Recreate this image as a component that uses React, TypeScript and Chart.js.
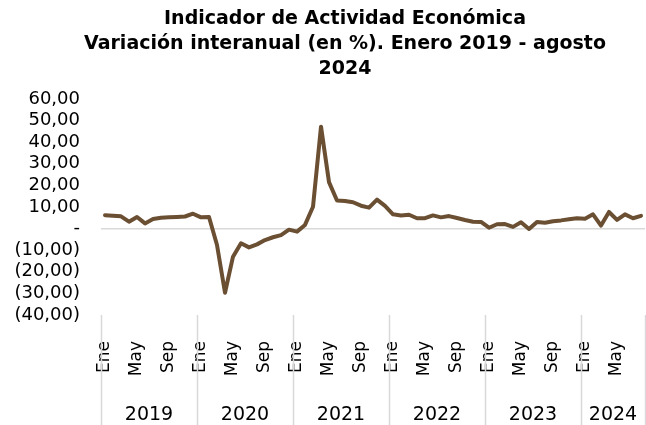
import React, { useEffect, useRef } from 'react';
import { Chart, registerables } from 'chart.js';

Chart.register(...registerables);

// ---- Data ----
const years = ['2019', '2020', '2021', '2022', '2023', '2024'];
const monthsPerYear = [12, 12, 12, 12, 12, 8];
const monthNames = ['Ene', 'Feb', 'Mar', 'Abr', 'May', 'Jun', 'Jul', 'Ago', 'Sep', 'Oct', 'Nov', 'Dic'];
const shownMonths = ['Ene', 'May', 'Sep'];
const variacion = [
  // 2019
  6.2, 6.0, 5.7, 3.2, 5.4, 2.4, 4.4, 5.0, 5.2, 5.4, 5.6, 6.9,
  // 2020
  5.2, 5.4, -7.6, -29.7, -13.0, -6.8, -8.7, -7.3, -5.3, -4.0, -3.0, -0.5,
  // 2021
  -1.4, 1.7, 10.1, 47.2, 21.5, 13.0, 12.8, 12.2, 10.6, 9.7, 13.4, 10.5,
  // 2022
  6.6, 6.1, 6.4, 4.8, 4.8, 6.1, 5.2, 5.8, 4.9, 4.0, 3.2, 3.1,
  // 2023
  0.4, 2.0, 2.1, 0.8, 2.9, -0.2, 3.1, 2.7, 3.4, 3.8, 4.3, 4.8,
  // 2024
  4.6, 6.6, 1.4, 7.7, 4.0, 6.6, 4.8, 5.9,
];
const titleLines = [
  'Indicador de Actividad Económica',
  'Variación interanual (en %). Enero 2019 - agosto',
  '2024',
];
const yMin = -40;
const yMax = 60;
const yStep = 10;

// ---- Derived ----
const categories: string[] = years.flatMap((_, i) => monthNames.slice(0, monthsPerYear[i]));
const yearStarts: number[] = monthsPerYear.map((_, i) =>
  monthsPerYear.slice(0, i).reduce((a, b) => a + b, 0)
);
const yearCenters: number[] = yearStarts.map((s, i) => s + (monthsPerYear[i] - 1) / 2);
const yearBoundaries: number[] = [...yearStarts.map((s) => s - 0.5), categories.length - 0.5];

const FONT = "'DejaVu Sans', sans-serif";
const LINE_COLOR = '#6B4F33';
const GRID_COLOR = '#D9D9D9';

function formatY(v: number): string {
  if (v === 0) return '-';
  const s = Math.abs(v).toFixed(2).replace('.', ',');
  return v < 0 ? `(${s})` : s;
}

const titlePlugin = {
  id: 'customTitle',
  afterDraw(chart: any) {
    const ctx = chart.ctx;
    ctx.save();
    ctx.fillStyle = '#000';
    ctx.font = `bold 19px ${FONT}`;
    ctx.textAlign = 'center';
    ctx.textBaseline = 'middle';
    const cx = 345;
    titleLines.forEach((line, i) => {
      ctx.fillText(line, cx, 19 + i * 25);
    });
    ctx.restore();
  },
};

const separatorPlugin = {
  id: 'yearSeparators',
  afterDraw(chart: any) {
    const ctx = chart.ctx;
    const s = chart.scales.x2;
    const top = chart.chartArea.bottom;
    const bottom = chart.height;
    ctx.save();
    ctx.strokeStyle = GRID_COLOR;
    ctx.lineWidth = 1.5;
    yearBoundaries.forEach((b) => {
      const x = Math.round(s.getPixelForValue(b)) + 0.5;
      ctx.beginPath();
      ctx.moveTo(x, top);
      ctx.lineTo(x, bottom);
      ctx.stroke();
    });
    ctx.restore();
  },
};

export default function App() {
  const canvasRef = useRef<HTMLCanvasElement | null>(null);

  useEffect(() => {
    if (!canvasRef.current) return;
    const chart = new Chart(canvasRef.current, {
      type: 'line',
      data: {
        labels: categories,
        datasets: [
          {
            data: variacion,
            borderColor: LINE_COLOR,
            backgroundColor: LINE_COLOR,
            borderWidth: 4,
            pointRadius: 0,
            tension: 0,
            borderJoinStyle: 'round',
            borderCapStyle: 'round',
            fill: false,
          },
        ],
      },
      options: {
        animation: false,
        responsive: true,
        maintainAspectRatio: false,
        layout: { padding: { top: 99, right: 1, left: 0, bottom: 0 } },
        plugins: {
          legend: { display: false },
          title: { display: false },
          tooltip: { enabled: false },
        },
        scales: {
          x: {
            type: 'category',
            offset: true,
            weight: 0,
            grid: { display: false },
            border: { display: false },
            ticks: {
              autoSkip: false,
              maxRotation: 90,
              minRotation: 90,
              padding: 18,
              color: '#000',
              font: { family: FONT, size: 17 },
              callback: (_v: any, i: number) =>
                shownMonths.includes(categories[i]) ? categories[i] : '',
            },
            afterFit: (s: any) => {
              s.height = 60;
              s.paddingLeft = 0;
              s.paddingRight = 0;
            },
          },
          x2: {
            type: 'linear',
            position: 'bottom',
            weight: 1,
            min: -0.5,
            max: categories.length - 0.5,
            grid: { display: false },
            border: { display: false },
            afterBuildTicks: (axis: any) => {
              axis.ticks = yearCenters.map((v) => ({ value: v }));
            },
            ticks: {
              autoSkip: false,
              maxRotation: 0,
              minRotation: 0,
              padding: 21,
              color: '#000',
              font: { family: FONT, size: 19 },
              callback: (v: any) => {
                const idx = yearCenters.indexOf(Number(v));
                return idx >= 0 ? years[idx] : '';
              },
            },
            afterFit: (s: any) => {
              s.height = 50;
              s.paddingLeft = 0;
              s.paddingRight = 0;
            },
          },
          y: {
            min: yMin,
            max: yMax,
            border: { display: false },
            grid: {
              drawTicks: false,
              lineWidth: 1.5,
              color: (ctx: any) => (ctx.tick && ctx.tick.value === 0 ? GRID_COLOR : 'rgba(0,0,0,0)'),
            },
            ticks: {
              stepSize: yStep,
              autoSkip: false,
              padding: 21,
              color: '#000',
              font: { family: FONT, size: 18 },
              callback: (v: any) => formatY(Number(v)),
            },
            afterFit: (s: any) => {
              s.width = 101;
            },
          },
        },
      },
      plugins: [titlePlugin, separatorPlugin],
    });
    return () => chart.destroy();
  }, []);

  return (
    <div style={{ position: 'fixed', left: 0, top: 0, width: 646, height: 425, background: '#fff' }}>
      <canvas ref={canvasRef} />
    </div>
  );
}
